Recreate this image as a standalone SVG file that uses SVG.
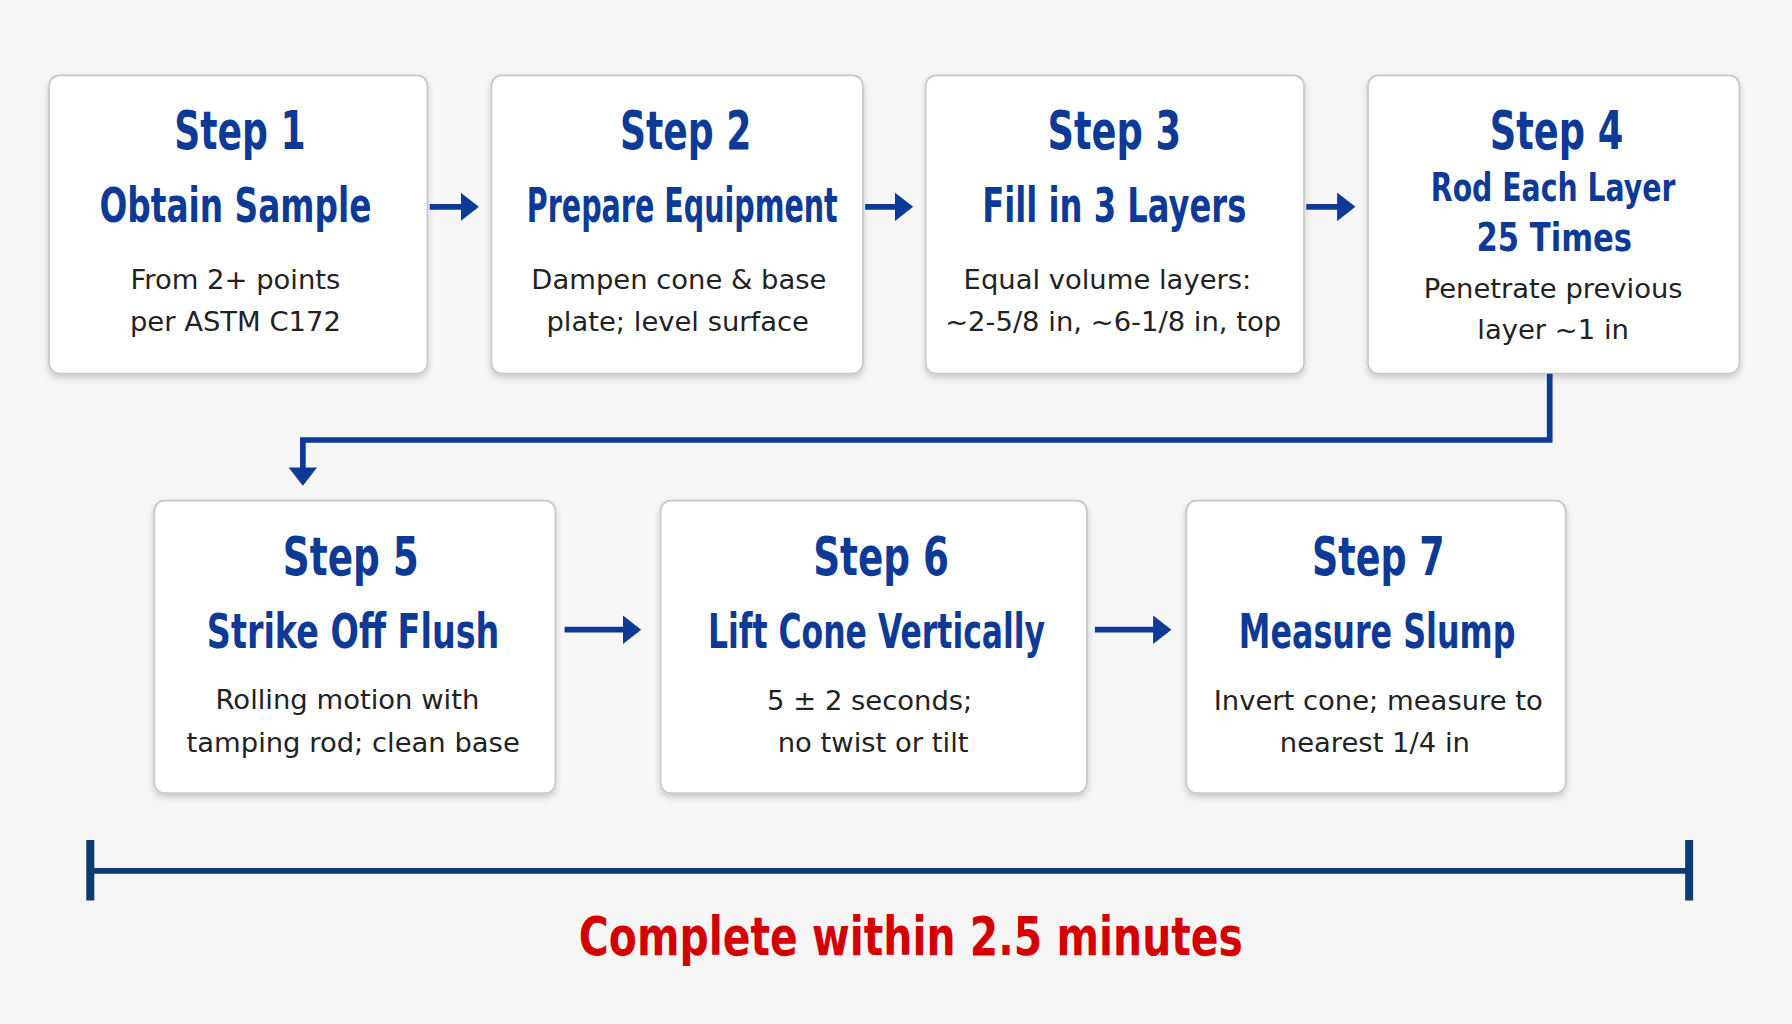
<svg xmlns="http://www.w3.org/2000/svg" width="1792" height="1024" viewBox="0 0 1792 1024">
<style>
.box{fill:#fff;stroke:#c8c8c8;stroke-width:1.5}
.t{font-family:"DejaVu Sans","Liberation Sans",sans-serif;font-weight:bold;fill:#0d3a96;text-anchor:middle}
.b{font-family:"DejaVu Sans","Liberation Sans",sans-serif;fill:#222;text-anchor:middle;font-size:24px}
.c{stroke:#0d3a96;stroke-width:5;fill:none}
</style>
<defs>
<marker id="ah" markerWidth="5" markerHeight="5" refX="2.6" refY="2.5" orient="auto" markerUnits="strokeWidth"><path d="M0,0 L3.2,2.5 L0,5 Z" fill="#0d3a96"/></marker>
<filter id="sh" x="-5%" y="-5%" width="110%" height="115%"><feDropShadow dx="0" dy="3" stdDeviation="3" flood-opacity="0.18"/></filter>
</defs>
<rect width="1792" height="1024" fill="#f6f6f6"/>
<g transform="scale(1.142857)">
<g id="step1"><rect class="box" filter="url(#sh)" x="43" y="66" width="331" height="261" rx="9"/><text class="t" x="210" y="130" font-size="46" textLength="115" lengthAdjust="spacingAndGlyphs">Step 1</text><text class="t" x="206" y="194" font-size="42" textLength="238" lengthAdjust="spacingAndGlyphs">Obtain Sample</text><text class="b" x="206" y="253">From 2+ points</text><text class="b" x="206" y="290">per ASTM C172</text></g>
<g id="step2"><rect class="box" filter="url(#sh)" x="430" y="66" width="325" height="261" rx="9"/><text class="t" x="600" y="130" font-size="46" textLength="115" lengthAdjust="spacingAndGlyphs">Step 2</text><text class="t" x="597" y="194" font-size="42" textLength="272" lengthAdjust="spacingAndGlyphs">Prepare Equipment</text><text class="b" x="594" y="253">Dampen cone &amp; base</text><text class="b" x="593" y="290">plate; level surface</text></g>
<g id="step3"><rect class="box" filter="url(#sh)" x="810" y="66" width="331" height="261" rx="9"/><text class="t" x="975" y="130" font-size="46" textLength="117" lengthAdjust="spacingAndGlyphs">Step 3</text><text class="t" x="975" y="194" font-size="42" textLength="231" lengthAdjust="spacingAndGlyphs">Fill in 3 Layers</text><text class="b" x="969" y="253">Equal volume layers:</text><text class="b" x="974" y="290">~2-5/8 in, ~6-1/8 in, top</text></g>
<g id="step4"><rect class="box" filter="url(#sh)" x="1197" y="66" width="325" height="261" rx="9"/><text class="t" x="1362" y="130" font-size="46" textLength="117" lengthAdjust="spacingAndGlyphs">Step 4</text><text class="t" x="1359" y="176" font-size="34" textLength="214" lengthAdjust="spacingAndGlyphs">Rod Each Layer</text><text class="t" x="1360" y="220" font-size="34" textLength="136" lengthAdjust="spacingAndGlyphs">25 Times</text><text class="b" x="1359" y="261">Penetrate previous</text><text class="b" x="1359" y="297">layer ~1 in</text></g>
<g id="step5"><rect class="box" filter="url(#sh)" x="135" y="438" width="351" height="256" rx="9"/><text class="t" x="307" y="503" font-size="46" textLength="119" lengthAdjust="spacingAndGlyphs">Step 5</text><text class="t" x="309" y="567" font-size="42" textLength="256" lengthAdjust="spacingAndGlyphs">Strike Off Flush</text><text class="b" x="304" y="620">Rolling motion with</text><text class="b" x="309" y="658">tamping rod; clean base</text></g>
<g id="step6"><rect class="box" filter="url(#sh)" x="578" y="438" width="373" height="256" rx="9"/><text class="t" x="771" y="503" font-size="46" textLength="119" lengthAdjust="spacingAndGlyphs">Step 6</text><text class="t" x="767" y="567" font-size="42" textLength="295" lengthAdjust="spacingAndGlyphs">Lift Cone Vertically</text><text class="b" x="761" y="621">5 ± 2 seconds;</text><text class="b" x="764" y="658">no twist or tilt</text></g>
<g id="step7"><rect class="box" filter="url(#sh)" x="1038" y="438" width="332" height="256" rx="9"/><text class="t" x="1206" y="503" font-size="46" textLength="116" lengthAdjust="spacingAndGlyphs">Step 7</text><text class="t" x="1205" y="567" font-size="42" textLength="242" lengthAdjust="spacingAndGlyphs">Measure Slump</text><text class="b" x="1206" y="621">Invert cone; measure to</text><text class="b" x="1203" y="658">nearest 1/4 in</text></g>
<g id="connectors">
<path class="c" marker-end="url(#ah)" d="M376,181 H416"/>
<path class="c" marker-end="url(#ah)" d="M757,181 H796"/>
<path class="c" marker-end="url(#ah)" d="M1143,181 H1183"/>
<path class="c" marker-end="url(#ah)" d="M1356,327 V385 H265 V422"/>
<path class="c" marker-end="url(#ah)" d="M494,551 H558"/>
<path class="c" marker-end="url(#ah)" d="M958,551 H1022"/>
</g>
<g id="timeline">
<path d="M79,762 H1478" stroke="#0d3a70" stroke-width="5"/>
<path d="M79,735 V788 M1478,735 V788" stroke="#0d3a70" stroke-width="7"/>
<text x="797" y="836" font-family="DejaVu Sans,Liberation Sans,sans-serif" font-weight="bold" font-size="46" fill="#d40000" text-anchor="middle" textLength="581" lengthAdjust="spacingAndGlyphs">Complete within 2.5 minutes</text>
</g>
</g>
</svg>
